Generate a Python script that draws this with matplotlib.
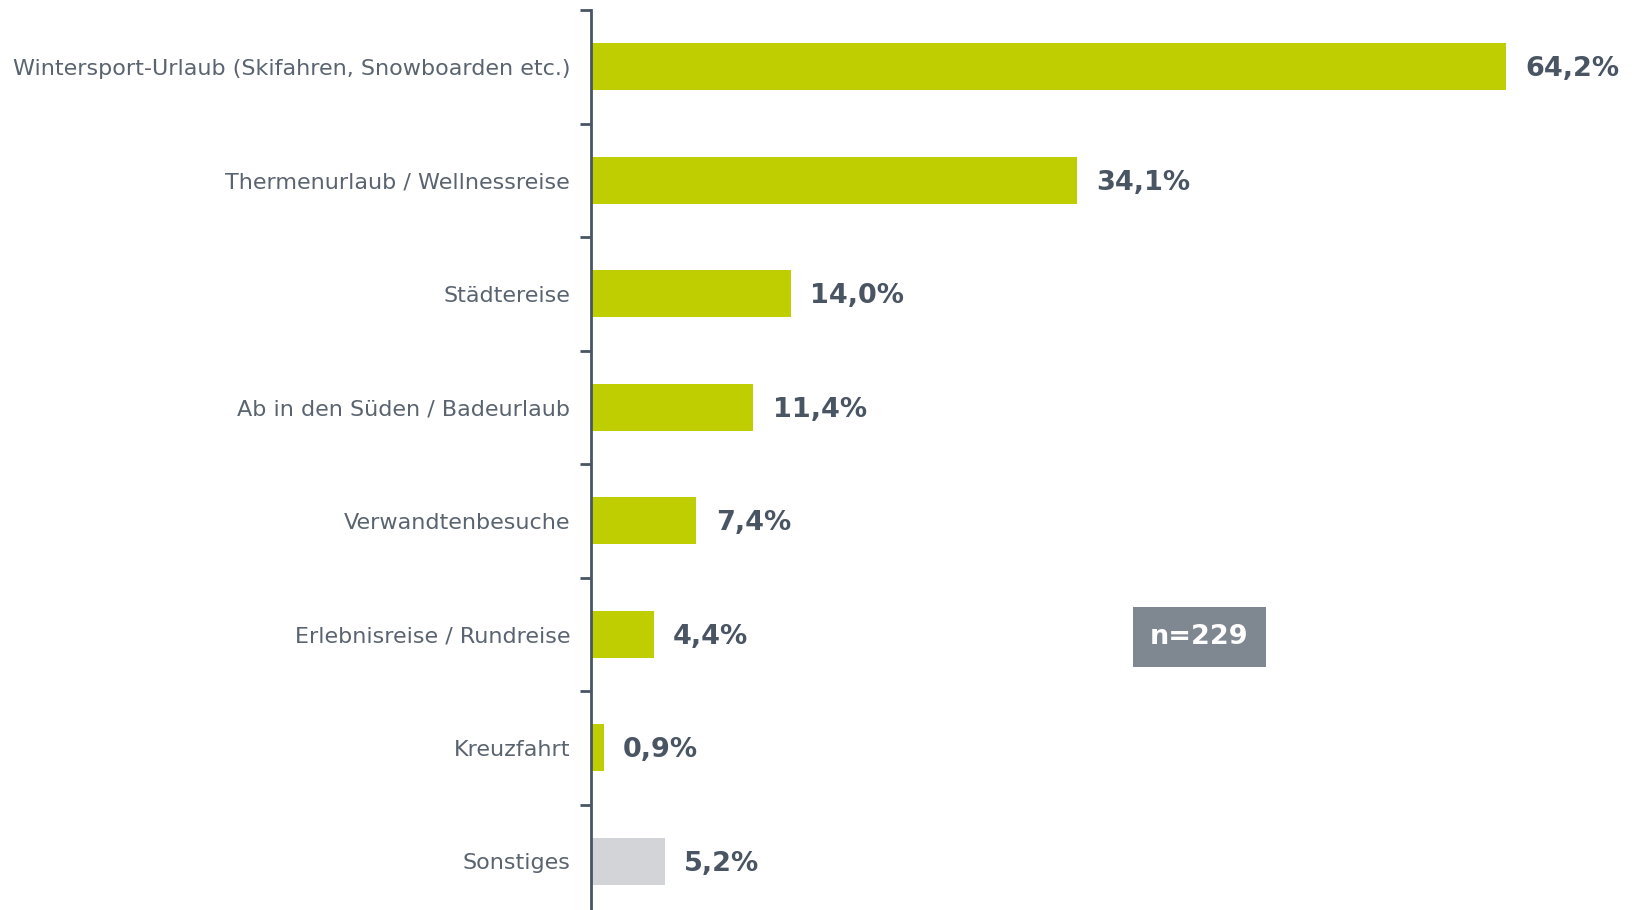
import matplotlib
matplotlib.use("Agg")
import matplotlib.pyplot as plt
import numpy as np

# Data
categories = [
    'Wintersport-Urlaub (Skifahren, Snowboarden etc.)',
    'Thermenurlaub / Wellnessreise',
    'Städtereise',
    'Ab in den Süden / Badeurlaub',
    'Verwandtenbesuche',
    'Erlebnisreise / Rundreise',
    'Kreuzfahrt',
    'Sonstiges',
]
values = [64.2, 34.1, 14.0, 11.4, 7.4, 4.4, 0.9, 5.2]
sample_note = 'n=229'

green = '#bfce00'
grey_bar = '#d3d4d8'
dark = '#4a5563'
label_col = '#5a6470'

fig = plt.figure(figsize=(16.32, 9.10), dpi=100)
# axes: spine at x=591px, top at y=10px, 113.5px per category
ax = fig.add_axes([591 / 1632, 1 - 918 / 910, 1 - 591 / 1632, 908 / 910])

colors = [green] * (len(values) - 1) + [grey_bar]
y = np.arange(len(values))
ax.barh(y, values, height=0.41, color=colors, zorder=2)

for yi, v in zip(y, values):
    ax.text(v + 1.35, yi + 0.02, f"{v:.1f}%".replace('.', ','), va='center', ha='left',
            fontsize=19.5, fontweight='bold', color=dark)

ax.set_xlim(0, 73.05)
ax.set_ylim(len(values) - 0.5, -0.5)

ax.set_yticks(y)
ax.set_yticklabels(categories, fontsize=16, color=label_col)
ax.tick_params(axis='y', which='major', length=0, pad=15)
ax.set_yticks(np.arange(-0.5, len(values) + 0.5, 1), minor=True)
ax.tick_params(axis='y', which='minor', length=8, width=2, color=dark, direction='out')
ax.set_xticks([])

for s in ['top', 'right', 'bottom']:
    ax.spines[s].set_visible(False)
ax.spines['left'].set_color(dark)
ax.spines['left'].set_linewidth(2)

# sample size box
fig.text((1131 + 1268) / 2 / 1632, 1 - 637 / 910, sample_note, ha='center', va='center',
         fontsize=19.5, fontweight='bold', color='white',
         bbox=dict(boxstyle='square,pad=0.62', facecolor='#7f8790', edgecolor='none'))

fig.savefig('out.png', dpi=100)
